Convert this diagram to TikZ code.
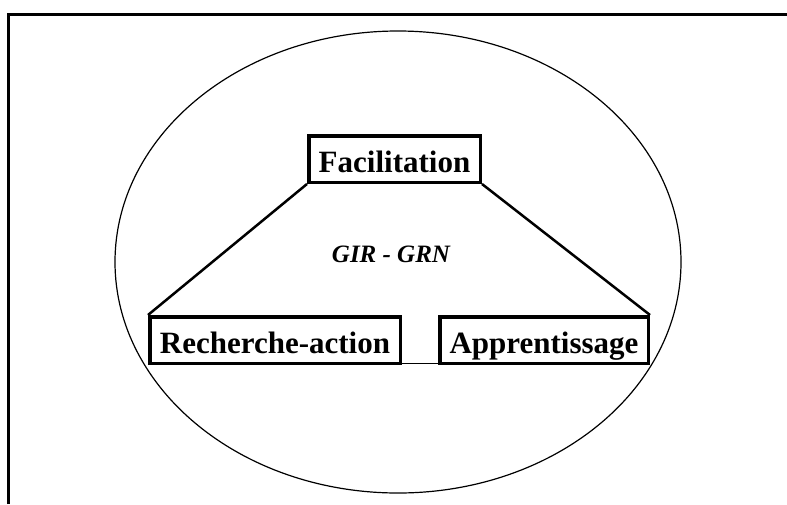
\documentclass[tikz,border=0pt]{standalone}
\usepackage{fontspec}
\setmainfont{Liberation Serif}
\usepackage{tikz}
\usetikzlibrary{positioning}
\usetikzlibrary{calc}
\tikzstyle{phase}=[rectangle,draw=black,line width=3.5pt,inner sep=0pt,minimum height=46.5pt,text height=26pt,text depth=0pt,font=\fontsize{31}{36}\selectfont\bfseries]
\tikzstyle{link} = [draw,line width=2.5pt]
\tikzstyle{thinlink} = [draw,line width=1.2pt]
\tikzstyle{label} = [font=\fontsize{25}{30}\selectfont\bfseries\itshape]

\begin{document}
\begin{tikzpicture}[x=1pt,y=-1pt]
    \useasboundingbox (0,0) rectangle (787,504);
    % frame (cut by the page on the right and at the bottom)
    \coordinate (fbot) at (8.5,504);
    \coordinate (ftop) at (8.5,14.5);
    \coordinate (fright) at (787,14.5);
    \draw[line width=2.6pt] (fbot) -- (ftop) -- (fright);
    % ellipse
    \draw[line width=1.2pt] (398,262) ellipse [x radius=283, y radius=231];

    % the three boxes
    \foreach \pos/\boxw/\name/\txt in {{(394.5,159)/171.5/fac/Facilitation}, {(275,340)/250.5/rech/Recherche-action}, {(544,340)/208.5/appr/Apprentissage}}
            \node[phase,minimum width=\boxw pt] (\name) at \pos {\txt};

    \node[label] (gir) at (391,254) {GIR - GRN};

    \path[link] (fac.south west) -- (rech.north west);
    \path[link] (fac.south east) -- (appr.north east);
    \path[thinlink] ($(rech.south east)+(0,-1.5)$) -- ($(appr.south west)+(0,-1.5)$);
\end{tikzpicture}
\end{document}
